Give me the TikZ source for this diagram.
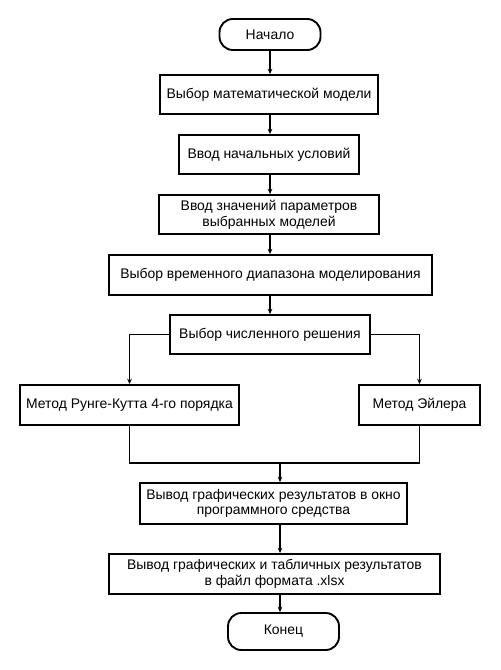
\documentclass[tikz,border=0pt]{standalone}
\usepackage{fontspec}
\setmainfont{Liberation Sans}
\usetikzlibrary{arrows.meta,calc}
\begin{document}
\begin{tikzpicture}[x=0.75pt,y=-0.75pt,
  box/.style={draw,line width=1.4pt,rectangle,inner sep=0pt,align=center,font=\fontsize{10.45pt}{11.8pt}\selectfont},
  term/.style={box,rounded corners=10pt},
  arr/.style={line width=1pt,-{Stealth[length=4pt,width=3.5pt]}},
  ln/.style={line width=1pt}]
\useasboundingbox (0,0) rectangle (500,670);
\node[term,minimum width=101*0.75pt,minimum height=31*0.75pt] (start) at (270,34.5) {Начало};
\node[box,minimum width=218*0.75pt,minimum height=39*0.75pt] (b1) at (269,94.5) {Выбор математической модели};
\node[box,minimum width=180*0.75pt,minimum height=39*0.75pt] (b2) at (269,154.5) {Ввод начальных условий};
\node[box,minimum width=220*0.75pt,minimum height=39*0.75pt] (b3) at (269,214.5) {Ввод значений параметров\\выбранных моделей};
\node[box,minimum width=323*0.75pt,minimum height=40*0.75pt] (b4) at (270.5,275) {Выбор временного диапазона моделирования};
\node[box,minimum width=200*0.75pt,minimum height=39*0.75pt] (b5) at (270,334.5) {Выбор численного решения};
\node[box,minimum width=219*0.75pt,minimum height=40*0.75pt] (b6) at (129.5,405) {Метод Рунге-Кутта 4-го порядка};
\node[box,minimum width=121*0.75pt,minimum height=40*0.75pt] (b7) at (419.5,405) {Метод Эйлера};
\coordinate (m) at (280,463);
\node[box,minimum width=267*0.75pt,minimum height=41*0.75pt] (b8) at (273.5,503.5) {Вывод графических результатов в окно\\программного средства};
\node[box,minimum width=331*0.75pt,minimum height=40*0.75pt] (b9) at (274.5,574) {Вывод графических и табличных результатов\\в файл формата .xlsx};
\node[term,minimum width=111*0.75pt,minimum height=37*0.75pt] (end) at (283.5,631.5) {Конец};
\draw[arr] (start.south) -- (start.south |- b1.north);
\draw[arr] (start.south |- b1.south) -- (start.south |- b2.north);
\draw[arr] (start.south |- b2.south) -- (start.south |- b3.north);
\draw[arr] (start.south |- b3.south) -- (start.south |- b4.north);
\draw[arr] (start.south |- b4.south) -- (start.south |- b5.north);
\draw[arr] (b5.west) -| (b6.north);
\draw[arr] (b5.east) -| (b7.north);
\draw[ln] (b6.south) -- (b6.south |- m) -- (b7.south |- m) -- (b7.south);
\draw[arr] (m) -- (m |- b8.north);
\draw[arr] (m |- b8.south) -- (m |- b9.north);
\draw[arr] (m |- b9.south) -- (m |- end.north);
\end{tikzpicture}
\end{document}
